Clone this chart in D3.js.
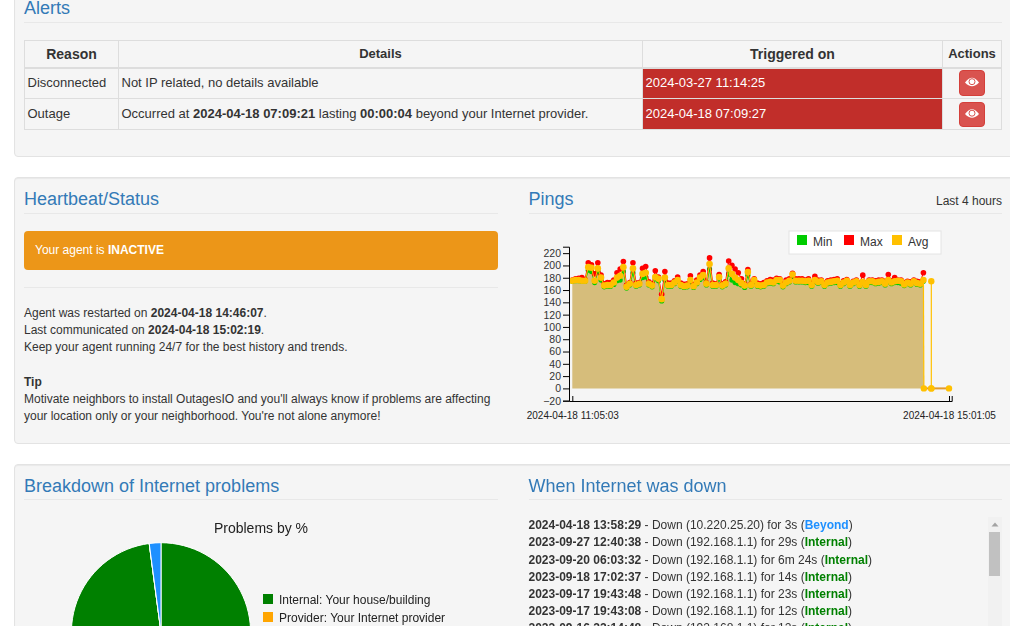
<!doctype html>
<html>
<head>
<meta charset="utf-8">
<script src="https://cdnjs.cloudflare.com/ajax/libs/d3/7.8.5/d3.min.js"></script>
<style>
html,body{margin:0;padding:0;width:1010px;height:626px;overflow:hidden;background:#fff;font-family:"Liberation Sans",Arial,sans-serif;font-size:12px;color:#333;}
.well{position:absolute;left:14px;width:1010px;background:#f5f5f5;border:1px solid #e3e3e3;border-radius:4px;box-shadow:inset 0 1px 1px rgba(0,0,0,.05);box-sizing:border-box;}
.h{position:absolute;font-size:18px;color:#337ab7;line-height:20px;white-space:nowrap;}
.rule{position:absolute;height:1px;background:#e8e8e8;}
.t{position:absolute;white-space:nowrap;line-height:17px;}
.cell{position:absolute;box-sizing:border-box;border:1px solid #ddd;font-size:13px;line-height:30px;padding-left:2.5px;white-space:nowrap;}
.first{border-top-width:2px;line-height:28px;}
.th{font-weight:bold;text-align:center;padding-left:0;line-height:26px;}
.red{background:#c12e2a;color:#fff;}
.btn{position:absolute;left:959px;width:26px;background:#d9534f;border:1px solid #d43f3a;border-radius:4px;box-sizing:border-box;}
svg{position:absolute;overflow:visible;}
svg text{font-family:"Liberation Sans",Arial,sans-serif;}
</style>
</head>
<body>
<div class="well" style="top:-20px;height:177px;"></div>
<div class="well" style="top:177px;height:267px;"></div>
<div class="well" style="top:464px;height:300px;"></div>

<div class="h" style="left:24px;top:-2px;">Alerts</div>
<div class="rule" style="left:24px;top:22px;width:978px;"></div>

<div class="cell th" style="left:24px;top:40px;width:95px;height:28px;font-size:14px;">Reason</div>
<div class="cell th" style="left:118px;top:40px;width:525px;height:28px;">Details</div>
<div class="cell th" style="left:642px;top:40px;width:301px;height:28px;font-size:14px;">Triggered on</div>
<div class="cell th" style="left:942px;top:40px;width:60px;height:28px;">Actions</div>

<div class="cell first" style="left:24px;top:67px;width:95px;height:32px;">Disconnected</div>
<div class="cell first" style="left:118px;top:67px;width:525px;height:32px;">Not IP related, no details available</div>
<div class="cell first red" style="left:642px;top:67px;width:301px;height:32px;">2024-03-27 11:14:25</div>
<div class="cell first" style="left:942px;top:67px;width:60px;height:32px;"></div>

<div class="cell" style="left:24px;top:98px;width:95px;height:32px;">Outage</div>
<div class="cell" style="left:118px;top:98px;width:525px;height:32px;">Occurred at <b>2024-04-18 07:09:21</b> lasting <b>00:00:04</b> beyond your Internet provider.</div>
<div class="cell red" style="left:642px;top:98px;width:301px;height:32px;">2024-04-18 07:09:27</div>
<div class="cell" style="left:942px;top:98px;width:60px;height:32px;"></div>

<div class="btn" style="top:70px;height:26px;"></div>
<div class="btn" style="top:102px;height:25px;"></div>
<svg id="eyes" style="left:0;top:0;" width="1010" height="626"></svg>

<div class="h" style="left:24px;top:189px;">Heartbeat/Status</div>
<div class="rule" style="left:24px;top:213px;width:474px;"></div>
<div style="position:absolute;left:24px;top:231px;width:474px;height:39px;background:#ec9618;border-radius:4px;color:#fff;line-height:38px;text-indent:11px;">Your agent is <b>INACTIVE</b></div>
<div class="rule" style="left:24px;top:287px;width:474px;"></div>
<div class="t" style="left:24px;top:305px;">Agent was restarted on <b>2024-04-18 14:46:07</b>.</div>
<div class="t" style="left:24px;top:322px;">Last communicated on <b>2024-04-18 15:02:19</b>.</div>
<div class="t" style="left:24px;top:339px;">Keep your agent running 24/7 for the best history and trends.</div>
<div class="t" style="left:24px;top:374px;"><b>Tip</b></div>
<div class="t" style="left:24px;top:390.5px;">Motivate neighbors to install OutagesIO and you'll always know if problems are affecting</div>
<div class="t" style="left:24px;top:407.5px;">your location only or your neighborhood. You're not alone anymore!</div>

<div class="h" style="left:528.5px;top:189px;">Pings</div>
<div class="t" style="right:8px;top:193px;">Last 4 hours</div>
<div class="rule" style="left:529px;top:213px;width:473px;"></div>
<svg id="pings" style="left:0;top:0;" width="1010" height="440"></svg>

<div class="h" style="left:24px;top:476px;">Breakdown of Internet problems</div>
<div class="rule" style="left:24px;top:499px;width:474px;"></div>
<svg id="pie" style="left:0;top:0;" width="1010" height="626"></svg>

<div class="h" style="left:528.5px;top:476px;">When Internet was down</div>
<div class="rule" style="left:529px;top:499px;width:473px;"></div>
<div id="downs"></div>
<div style="position:absolute;left:988px;top:517px;width:14px;height:109px;background:#f1f1f1;"></div>
<div style="position:absolute;left:989px;top:532px;width:11px;height:44px;background:#c1c1c1;"></div>
<svg style="left:988px;top:517px;" width="14" height="14"><path d="M3.5 9.5L7 5.5L10.5 9.5Z" fill="#a3a3a3"></path></svg>

<script>
// eye icons on the action buttons
var eyes = d3.select("#eyes");
[82.5, 114].forEach(function(cy) {
    var g = eyes.append("g").attr("transform", "translate(972," + cy + ")");
    g.append("path").attr("d", "M-7 0Q0 -9.5 7 0Q0 7.5 -7 0Z").attr("fill", "#fff");
    g.append("circle").attr("r", 3).attr("cy", -0.8).attr("fill", "none").attr("stroke", "#d9534f").attr("stroke-width", 1);
});

// pings, one row every 2 minutes from 11:05:03
var avg = [175,176,176,175,175,197,196,175,195,180,167,168,168,172,180,183,197,165,170,195,168,170,186,188,170,167,181,178,145,180,168,168,172,176,168,166,167,176,166,172,180,184,170,202,168,168,181,167,170,195,186,180,176,171,167,189,168,176,168,167,168,172,173,172,176,176,167,172,175,185,175,175,175,174,175,168,176,173,174,168,172,173,174,175,168,172,175,168,172,174,168,173,168,174,174,172,173,174,170,176,172,174,175,174,169,172,170,174,171,170,176];
var max = [176,178,179,180,177,204,201,186,204,184,170,172,172,176,188,194,206,168,172,204,171,172,195,198,173,170,191,181,153,190,171,171,175,181,171,169,170,183,169,176,184,190,172,212,171,170,185,170,173,207,200,194,188,178,170,193,170,178,171,170,172,175,177,176,179,178,170,176,178,187,178,178,178,176,178,172,182,176,176,171,175,176,177,178,170,175,177,170,174,176,171,184,171,176,176,175,176,176,174,185,175,180,176,176,172,174,173,176,174,173,188];
var min = [174,175,175,174,174,192,190,172,190,176,165,166,166,169,175,176,190,163,168,188,166,168,180,181,168,165,178,175,142,176,166,166,170,174,166,164,165,173,164,170,177,180,168,194,166,166,178,165,168,186,176,172,170,168,164,184,166,173,166,165,166,170,171,170,174,173,165,170,173,182,173,173,173,172,172,166,173,171,172,166,170,171,172,172,166,170,173,166,170,172,166,171,166,172,172,170,171,172,168,173,170,172,172,171,167,170,168,172,169,168,174];
var start = new Date(2024, 3, 18, 11, 5, 3);
var end = new Date(2024, 3, 18, 15, 1, 5);

// agent went quiet near the end
var tail = [
    {t: new Date(2024, 3, 18, 14, 45, 20), v: 0},
    {t: new Date(2024, 3, 18, 14, 50, 0), v: 0},
    {t: new Date(2024, 3, 18, 14, 50, 0), v: 174},
    {t: new Date(2024, 3, 18, 14, 50, 0), v: 0},
    {t: end, v: 0}
];

function rows(values) {
    return values.map(function(v, i) { return {t: new Date(+start + i * 120000), v: v}; });
}

var svg = d3.select("#pings");
var xScale = d3.scaleTime().domain([start, end]).range([572.3, 949]);
var yScale = d3.scaleLinear().domain([-20, 220]).range([400.7, 253]);

var areaGen = d3.area().x(function(d) { return xScale(d.t); }).y0(yScale(0)).y1(function(d) { return yScale(d.v); });
var lineGen = d3.line().x(function(d) { return xScale(d.t); }).y(function(d) { return yScale(d.v); });

svg.append("path").datum(rows(avg).concat(tail[0])).attr("d", areaGen).attr("fill", "#d6bd7b");

// the flat stretch at zero reads darker
svg.append("path").datum([tail[0], tail[4]]).attr("d", lineGen).attr("stroke", "#e39a2d").attr("stroke-width", 2).attr("fill", "none");

[{vals: min, color: "#00cc00", r: 2.6}, {vals: max, color: "#ff0000", r: 2.8}, {vals: avg, color: "#ffc000", r: 3.3}].forEach(function(s) {
    var data = rows(s.vals);
    svg.append("path").datum(data).attr("d", lineGen).attr("fill", "none").attr("stroke", s.color).attr("stroke-width", 1);
    svg.append("g").selectAll("circle").data(data).enter().append("circle")
        .attr("r", s.r)
        .attr("cx", function(d) { return xScale(d.t); })
        .attr("cy", function(d) { return yScale(d.v); })
        .attr("fill", s.color);
});

// only the avg colour shows on the two drops
var lastAvg = rows(avg)[avg.length - 1];
svg.append("path").datum([lastAvg, tail[0]]).attr("d", lineGen).attr("fill", "none").attr("stroke", "#ffc000").attr("stroke-width", 1.2);
svg.append("path").datum(tail.slice(1, 4)).attr("d", lineGen).attr("fill", "none").attr("stroke", "#ffc000").attr("stroke-width", 1.2);
svg.append("g").selectAll("circle").data(tail).enter().append("circle")
    .attr("r", 3.2)
    .attr("cx", function(d) { return xScale(d.t); })
    .attr("cy", function(d) { return yScale(d.v); })
    .attr("fill", "#ffc000");

var yAxisScale = d3.scaleLinear().domain([-20, 230.5]).range([400.7, 246.7]);
var yAxis = d3.axisLeft(yAxisScale).tickValues(d3.range(-20, 221, 20)).tickSize(6).tickPadding(2);
var gy = svg.append("g").attr("transform", "translate(569,0)").call(yAxis);
gy.selectAll("text").attr("font-size", 10.5).attr("fill", "#333");
gy.selectAll("path,line").attr("stroke", "#000");

var xAxisScale = d3.scaleTime().domain([xScale.invert(569), xScale.invert(951.7)]).range([569, 951.7]);
var xAxis = d3.axisBottom(xAxisScale).tickValues([start, end]).tickSize(-5).tickPadding(11)
    .tickFormat(d3.timeFormat("%Y-%m-%d %H:%M:%S"));
var gx = svg.append("g").attr("transform", "translate(0,401)").call(xAxis);
gx.selectAll("text").attr("font-size", 10).attr("fill", "#222");
gx.selectAll("path,line").attr("stroke", "#000");

// legend
svg.append("rect").attr("x", 789).attr("y", 231).attr("width", 152).attr("height", 23).attr("fill", "#fff").attr("stroke", "#e4e4e4");
[{n: "Min", c: "#00cc00", x: 797, tx: 813}, {n: "Max", c: "#ff0000", x: 844, tx: 860}, {n: "Avg", c: "#ffc000", x: 892, tx: 908}].forEach(function(l) {
    svg.append("rect").attr("x", l.x).attr("y", 235).attr("width", 10).attr("height", 10).attr("fill", l.c);
    svg.append("text").attr("x", l.tx).attr("y", 246).attr("font-size", 12).attr("fill", "#333").text(l.n);
});

// breakdown pie
var problems = [
    {name: "Internal: Your house/building", pct: 97.9, color: "#008000"},
    {name: "Provider: Your Internet provider", pct: 0, color: "#ffa500"},
    {name: "Beyond", pct: 2.1, color: "#1e90ff"}
];
var pieSvg = d3.select("#pie");
pieSvg.append("text").attr("x", 261).attr("y", 533).attr("text-anchor", "middle").attr("font-size", 14).attr("fill", "#222").text("Problems by %");
var arc = d3.arc().innerRadius(0).outerRadius(89.6);
pieSvg.append("g").attr("transform", "translate(161,632.3)")
    .selectAll("path").data(d3.pie().sort(null).value(function(d) { return d.pct; })(problems)).enter().append("path")
    .attr("d", arc).attr("fill", function(d) { return d.data.color; }).attr("stroke", "#fff").attr("stroke-width", 1);
problems.slice(0, 2).forEach(function(p, i) {
    pieSvg.append("rect").attr("x", 263).attr("y", 594 + i * 18).attr("width", 10).attr("height", 10).attr("fill", p.color);
    pieSvg.append("text").attr("x", 279).attr("y", 604 + i * 18).attr("font-size", 12).attr("fill", "#222").text(p.name);
});

// outage log
var downs = [
    ["2024-04-18 13:58:29", "10.220.25.20", "3s", "Beyond", 517],
    ["2023-09-27 12:40:38", "192.168.1.1", "29s", "Internal", 534],
    ["2023-09-20 06:03:32", "192.168.1.1", "6m 24s", "Internal", 552],
    ["2023-09-18 17:02:37", "192.168.1.1", "14s", "Internal", 569],
    ["2023-09-17 19:43:48", "192.168.1.1", "23s", "Internal", 586],
    ["2023-09-17 19:43:08", "192.168.1.1", "12s", "Internal", 603],
    ["2023-09-16 22:14:48", "192.168.1.1", "12s", "Internal", 620]
];
d3.select("#downs").selectAll("div").data(downs).enter().append("div")
    .attr("class", "t")
    .style("left", "528.5px")
    .style("top", function(d) { return d[4] + "px"; })
    .html(function(d) {
        var c = d[3] == "Beyond" ? "#1e90ff" : "#008000";
        return "<b>" + d[0] + "</b> - Down (" + d[1] + ") for " + d[2] + " (<b style='color:" + c + "'>" + d[3] + "</b>)";
    });
</script>
</body>
</html>
